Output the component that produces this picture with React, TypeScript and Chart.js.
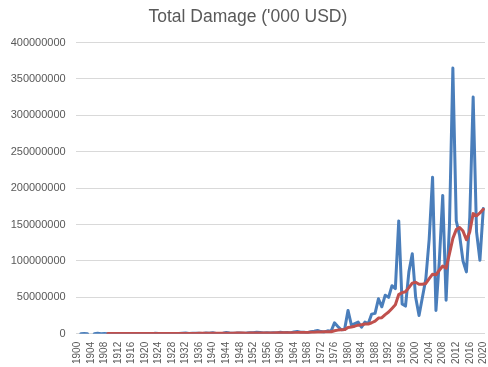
import React, { useEffect, useRef } from 'react';
import { Chart, registerables } from 'chart.js';

Chart.register(...registerables);

// Categories (years)
const years = [
  '1900','1901','1902','1903','1904','1905','1906','1907','1908','1909',
  '1910','1911','1912','1913','1914','1915','1916','1917','1918','1919',
  '1920','1921','1922','1923','1924','1925','1926','1927','1928','1929',
  '1930','1931','1932','1933','1934','1935','1936','1937','1938','1939',
  '1940','1941','1942','1943','1944','1945','1946','1947','1948','1949',
  '1950','1951','1952','1953','1954','1955','1956','1957','1958','1959',
  '1960','1961','1962','1963','1964','1965','1966','1967','1968','1969',
  '1970','1971','1972','1973','1974','1975','1976','1977','1978','1979',
  '1980','1981','1982','1983','1984','1985','1986','1987','1988','1989',
  '1990','1991','1992','1993','1994','1995','1996','1997','1998','1999',
  '2000','2001','2002','2003','2004','2005','2006','2007','2008','2009',
  '2010','2011','2012','2013','2014','2015','2016','2017','2018','2019',
  '2020',
];

// Total damage per year, in millions of '000 USD
const totalDamageM: (number | null)[] = [
  null, 0.1, 0.2, 0.1, null, 0.1, 0.6, 0.1, 0.2, 0.1,
  0.2, 0.3, 0.1, 0.2, 0.1, 0.3, 0.1, 0.2, 0.2, 0.1,
  0.3, 0.2, 0.1, 0.7, 0.2, 0.3, 0.2, 0.4, 0.3, 0.2,
  0.3, 0.8, 1.2, 0.5, 0.6, 0.8, 0.7, 0.5, 0.9, 0.6,
  1.5, 0.4, 0.5, 0.8, 1.6, 0.9, 0.8, 0.9, 1.2, 0.8,
  1.0, 1.5, 1.3, 2.0, 1.8, 1.2, 1.4, 1.0, 1.3, 1.2,
  2.0, 1.5, 1.8, 1.2, 2.5, 3.0, 2.2, 2.0, 1.5, 2.8,
  3.5, 4.5, 3.0, 2.5, 4.0, 3.5, 15, 10, 5.5, 6,
  32, 12, 14, 16, 9, 16, 14, 27, 28, 48,
  37, 53, 50, 66, 62, 155, 41, 38, 85, 110,
  50, 25, 50, 75, 130, 215, 32, 100, 190, 46,
  150, 365, 155, 135, 100, 85, 160, 325, 140, 101,
  172,
];

// 10-year moving average, in millions of '000 USD
const movingAverageM: (number | null)[] = [
  null, null, null, null, null, null, null, null, null, 0.2,
  0.2, 0.2, 0.2, 0.2, 0.2, 0.2, 0.2, 0.2, 0.2, 0.2,
  0.2, 0.2, 0.2, 0.25, 0.25, 0.25, 0.25, 0.25, 0.3, 0.3,
  0.3, 0.35, 0.45, 0.45, 0.5, 0.5, 0.55, 0.6, 0.65, 0.65,
  0.7, 0.75, 0.7, 0.75, 0.85, 0.85, 0.85, 0.9, 0.9, 0.9,
  0.85, 0.95, 1.0, 1.1, 1.1, 1.15, 1.2, 1.2, 1.2, 1.25,
  1.35, 1.35, 1.4, 1.35, 1.4, 1.6, 1.7, 1.8, 1.8, 1.95,
  2.1, 2.4, 2.5, 2.6, 2.75, 2.8, 4.2, 5.0, 5.4, 5.7,
  8.6, 9.3, 10.4, 11.8, 12.3, 13.5, 13.4, 15.1, 17.3, 21.5,
  22.0, 26.2, 29.8, 34.8, 39.9, 53.8, 56.5, 57.6, 63.3, 69.5,
  70.8, 68.0, 68.0, 69.0, 75.8, 81.8, 81.0, 87.2, 93, 90,
  110, 131, 143, 146, 141, 129, 140, 165, 162, 166,
  171,
];

const UNIT = 1000000;
const yMax = 400000000;
const yStep = 50000000;

const TEXT = '#595959';
const FONT = "'Liberation Sans', Arial, sans-serif";

export default function App() {
  const ref = useRef<HTMLCanvasElement>(null);

  useEffect(() => {
    if (!ref.current) return;
    const chart = new Chart(ref.current, {
      type: 'line',
      data: {
        labels: years,
        datasets: [
          {
            label: 'Total Damage',
            data: totalDamageM.map((v) => (v == null ? null : v * UNIT)),
            borderColor: '#4A7EBB',
            backgroundColor: '#4A7EBB',
            borderWidth: 3,
            pointRadius: 0,
            tension: 0,
            spanGaps: false,
            borderCapStyle: 'round',
            borderJoinStyle: 'round',
            order: 1,
          },
          {
            label: '10 per. Mov. Avg.',
            data: movingAverageM.map((v) => (v == null ? null : v * UNIT)),
            borderColor: '#C0504D',
            backgroundColor: '#C0504D',
            borderWidth: 3,
            pointRadius: 0,
            tension: 0,
            spanGaps: false,
            borderCapStyle: 'round',
            borderJoinStyle: 'round',
            order: 0,
          },
        ],
      },
      options: {
        animation: false,
        responsive: false,
        events: [],
        layout: { padding: { left: 10.7, right: 13, top: 0, bottom: 3 } },
        plugins: {
          legend: { display: false },
          tooltip: { enabled: false },
          title: {
            display: true,
            text: "Total Damage ('000 USD)",
            color: TEXT,
            font: { family: FONT, size: 17.5, weight: 'normal' },
            padding: { top: 6.5, bottom: 15 },
          },
        },
        scales: {
          x: {
            offset: true,
            grid: { display: false, drawTicks: false },
            border: { display: false },
            ticks: {
              autoSkip: false,
              minRotation: 90,
              maxRotation: 90,
              padding: 8,
              color: TEXT,
              font: { family: FONT, size: 10 },
              callback: (_v: any, i: number) => (i % 4 === 0 ? years[i] : null),
            },
            afterFit: (s: any) => {
              s.paddingRight = 0;
              s.paddingLeft = 0;
            },
          },
          y: {
            min: 0,
            max: yMax,
            grid: { color: '#D9D9D9', drawTicks: false, lineWidth: 1 },
            border: { display: false },
            ticks: {
              stepSize: yStep,
              padding: 10,
              color: TEXT,
              font: { family: FONT, size: 11 },
              callback: (v: any) => String(v),
            },
            afterFit: (s: any) => {
              s.width = 65;
            },
          },
        },
      },
    });
    return () => chart.destroy();
  }, []);

  return (
    <div style={{ position: 'fixed', left: 0, top: 0, width: 488, height: 367, overflow: 'hidden', background: '#fff' }}>
      <canvas ref={ref} width={498} height={375} style={{ display: 'block' }} />
    </div>
  );
}
